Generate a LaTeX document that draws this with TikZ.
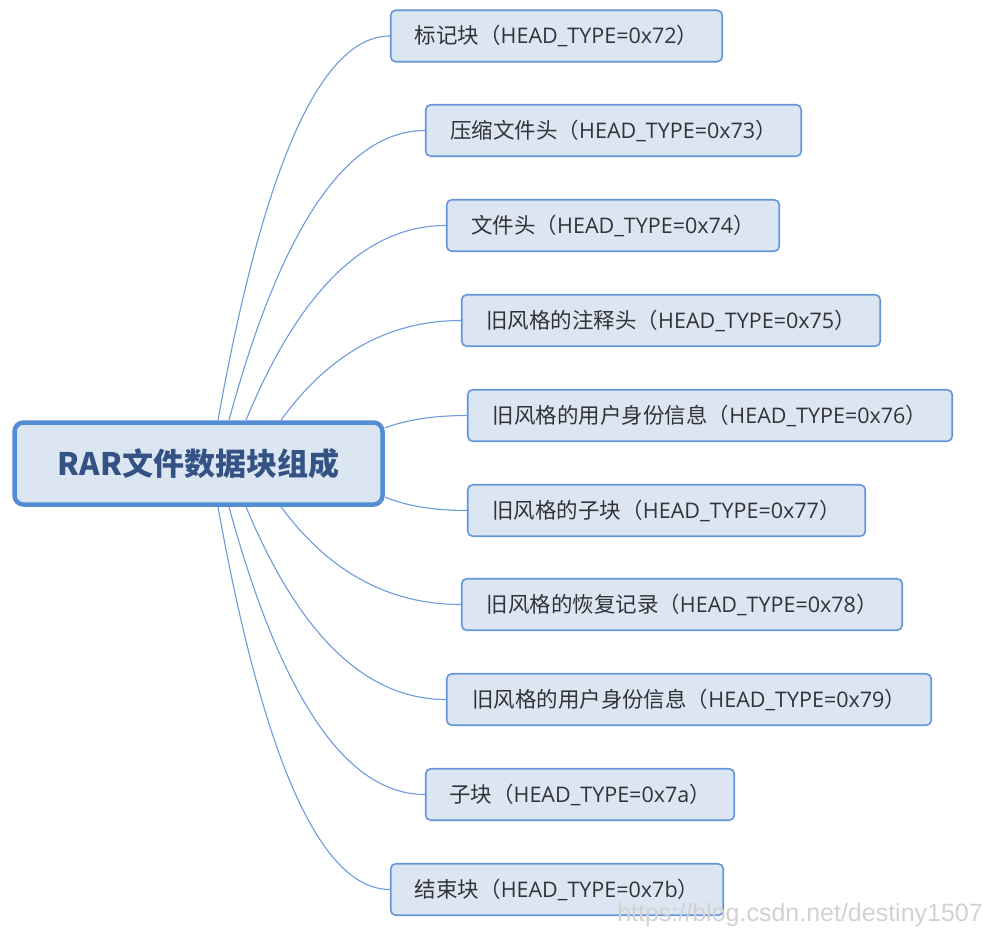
\documentclass[tikz,border=0pt]{standalone}
\usepackage{fontspec}
\setmainfont{Open Sans}
\newfontfamily\cjk{Noto Sans CJK SC}
\newfontfamily\wmfont{Liberation Sans}
\usetikzlibrary{calc}
\definecolor{boxfill}{RGB}{220,230,242}
\definecolor{leafline}{RGB}{100,150,218}
\definecolor{rootline}{RGB}{84,141,212}
\definecolor{linkcol}{RGB}{110,155,220}
\definecolor{leaftext}{RGB}{50,50,55}
\definecolor{roottext}{RGB}{52,82,132}
\definecolor{wmcol}{RGB}{210,210,210}
\newcommand\leaflabel[2]{{\cjk #1（}#2{\cjk ）}}
\begin{document}
\begin{tikzpicture}[x=1pt,y=-1pt,
  leaf/.style={draw=leafline, fill=boxfill, line width=1.6pt, rounded corners=5pt,
    minimum height=51.5pt, inner sep=0pt, font=\fontsize{21.5}{24}\selectfont, text=leaftext},
  root/.style={draw=rootline, fill=boxfill, line width=4.5pt, rounded corners=9pt,
    minimum width=368pt, minimum height=82pt, inner sep=0pt,
    font=\cjk\bfseries\fontsize{31}{36}\selectfont, text=roottext},
  link/.style={draw=linkcol, line width=1.1pt},
  branch/.style={to path={let \p1=(\tikztostart), \p2=(\tikztotarget) in
    .. controls ({\x1+0.2667*(\x2-\x1)},{\y1+0.6667*(\y2-\y1)}) and ({\x2-0.4*(\x2-\x1)},\y2) .. (\tikztotarget)}}]
\useasboundingbox (0,0) rectangle (983,931);
\fill[white] (0,0) rectangle (983,931);

\node[root] (c) at (198.5,463.5) {RAR文件数据块组成};

\node[leaf, minimum width=331.5pt] (n1) at (556.5,36) {\leaflabel{标记块}{HEAD\_TYPE=0x72}};
\node[leaf, minimum width=375.5pt] (n2) at (613.5,130.5) {\leaflabel{压缩文件头}{HEAD\_TYPE=0x73}};
\node[leaf, minimum width=332.5pt] (n3) at (613,225.5) {\leaflabel{文件头}{HEAD\_TYPE=0x74}};
\node[leaf, minimum width=418.5pt] (n4) at (671,320.5) {\leaflabel{旧风格的注释头}{HEAD\_TYPE=0x75}};
\node[leaf, minimum width=484.5pt] (n5) at (710,415.5) {\leaflabel{旧风格的用户身份信息}{HEAD\_TYPE=0x76}};
\node[leaf, minimum width=397.5pt] (n6) at (666.5,510.5) {\leaflabel{旧风格的子块}{HEAD\_TYPE=0x77}};
\node[leaf, minimum width=440.5pt] (n7) at (682,604.5) {\leaflabel{旧风格的恢复记录}{HEAD\_TYPE=0x78}};
\node[leaf, minimum width=484.5pt] (n8) at (689,699.5) {\leaflabel{旧风格的用户身份信息}{HEAD\_TYPE=0x79}};
\node[leaf, minimum width=308.5pt] (n9) at (580,794.5) {\leaflabel{子块}{HEAD\_TYPE=0x7a}};
\node[leaf, minimum width=332.5pt] (n10) at (557,889.5) {\leaflabel{结束块}{HEAD\_TYPE=0x7b}};

\coordinate (s1) at ($(c.north)+(19.5,0)$);
\coordinate (s2) at ($(c.north)+(30.5,0)$);
\coordinate (s3) at ($(c.north)+(47.5,0)$);
\coordinate (s4) at ($(c.north)+(82.5,0)$);
\coordinate (s5) at ($(c.east)+(0,-35.5)$);
\coordinate (s6) at ($(c.east)+(0,33.5)$);
\coordinate (s7) at ($(c.south)+(82.5,0)$);
\coordinate (s8) at ($(c.south)+(47.5,0)$);
\coordinate (s9) at ($(c.south)+(30.5,0)$);
\coordinate (s10) at ($(c.south)+(19.5,0)$);

\foreach \i in {1,...,10} {
  \draw[link] (s\i) to[branch] (n\i.west);
}

\node[font=\wmfont\fontsize{25}{28}\selectfont, text=wmcol, anchor=south east, inner sep=0pt] (wm) at (983,927) {https://blog.csdn.net/destiny1507};
\end{tikzpicture}
\end{document}
